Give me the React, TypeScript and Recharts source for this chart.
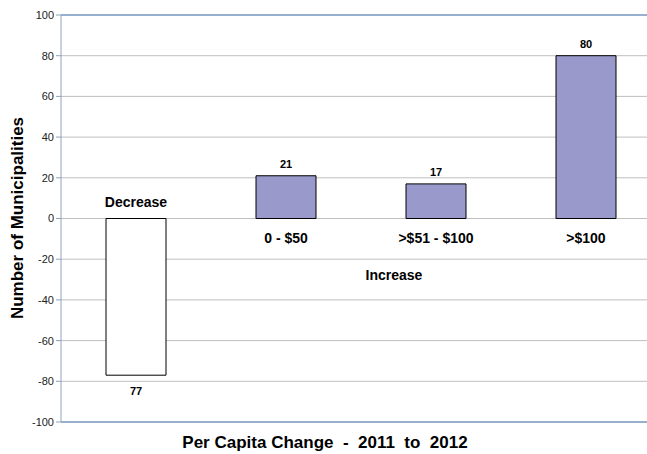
import { BarChart, Bar, XAxis, YAxis, CartesianGrid, ReferenceLine, LabelList, Cell } from "recharts";

const categories = ["Decrease", "0 - $50", ">$51 - $100", ">$100"];
const counts = [-77, 21, 17, 80];
const yTicks = [-100, -80, -60, -40, -20, 0, 20, 40, 60, 80, 100];
const groupLabel = "Increase";
const xTitle = "Per Capita Change  -  2011  to  2012";
const yTitle = "Number of Municipalities";

const data = categories.map((name, i) => ({ name, value: counts[i] }));

const FONT = "'Liberation Sans', Arial, sans-serif";

function zeroOf(y: number, h: number, v: number) {
  return v >= 0 ? Math.max(y, y + h) : Math.min(y, y + h);
}
function endOf(y: number, h: number, v: number) {
  return v >= 0 ? Math.min(y, y + h) : Math.max(y, y + h);
}

function ValueLabel(props: any) {
  const { x, y, width, height, index } = props;
  const v = counts[index];
  const end = endOf(Number(y), Number(height), v);
  return (
    <text
      x={Number(x) + Number(width) / 2}
      y={v >= 0 ? end - 12 : end + 16}
      textAnchor="middle"
      dominantBaseline="central"
      fontSize={11}
      fontWeight="bold"
      fill="#000"
      fontFamily={FONT}
    >
      {Math.abs(v)}
    </text>
  );
}

function NameLabel(props: any) {
  const { x, y, width, height, index } = props;
  const v = counts[index];
  const zero = zeroOf(Number(y), Number(height), v);
  const cx = Number(x) + Number(width) / 2;
  return (
    <g fontFamily={FONT} fontWeight="bold" fontSize={14} fill="#000">
      <text x={cx} y={v < 0 ? zero - 17 : zero + 19} textAnchor="middle" dominantBaseline="central">
        {categories[index]}
      </text>
      {index === 2 && (
        <text x={cx - 42} y={zero + 56} textAnchor="middle" dominantBaseline="central">
          {groupLabel}
        </text>
      )}
    </g>
  );
}

export default function App() {
  return (
    <div style={{ position: "absolute", left: 0, top: 0, width: 647, height: 454, overflow: "hidden", background: "#fff" }}>
      <BarChart width={665} height={454} data={data} margin={{ top: 15, right: 4, left: 0, bottom: 0 }}>
        <CartesianGrid vertical={false} stroke="#BFBFBF" />
        <XAxis
          dataKey="name"
          tick={false}
          tickLine={false}
          height={32}
          axisLine={{ stroke: "#4F81BD" }}
          label={(p: any) => (
            <text
              x={325}
              y={p.viewBox.y + 20}
              textAnchor="middle"
              dominantBaseline="central"
              fontFamily={FONT}
              fontWeight="bold"
              fontSize={17}
              fill="#000"
              style={{ whiteSpace: "pre" }}
            >
              {xTitle}
            </text>
          )}
        />
        <YAxis
          domain={[-100, 100]}
          ticks={yTicks}
          interval={0}
          width={61}
          axisLine={{ stroke: "#8EA2BE" }}
          tickLine={{ stroke: "#8EA2BE" }}
          tickSize={5}
          tick={{ fill: "#222", fontSize: 11, fontFamily: FONT }}
          label={() => (
            <text
              x={17}
              y={218}
              transform="rotate(-90, 17, 218)"
              textAnchor="middle"
              dominantBaseline="central"
              fontFamily={FONT}
              fontWeight="bold"
              fontSize={17}
              fill="#000"
            >
              {yTitle}
            </text>
          )}
        />
        <ReferenceLine y={100} stroke="#4F81BD" />
        <Bar dataKey="value" barSize={60} stroke="#000" strokeWidth={1} isAnimationActive={false}>
          {data.map((d, i) => (
            <Cell key={i} fill={d.value < 0 ? "#FFFFFF" : "#9999CC"} />
          ))}
          <LabelList dataKey="value" content={ValueLabel} />
          <LabelList dataKey="name" content={NameLabel} />
        </Bar>
      </BarChart>
    </div>
  );
}
